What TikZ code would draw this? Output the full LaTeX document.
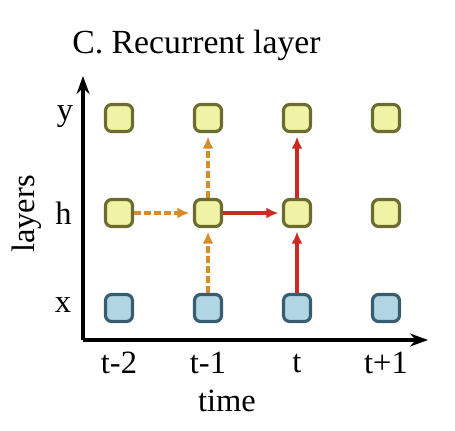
\documentclass[tikz,border=0pt]{standalone}
\usepackage{fontspec}
\setmainfont{Liberation Serif}
\usetikzlibrary{arrows.meta,positioning}
\definecolor{cellyellow}{RGB}{240,242,166}
\definecolor{darkolive}{RGB}{108,108,48}
\definecolor{cellblue}{RGB}{176,214,228}
\definecolor{darkteal}{RGB}{58,92,112}
\definecolor{darkorange}{RGB}{214,140,42}
\definecolor{darkred}{RGB}{204,40,36}

\begin{document}
\begin{tikzpicture}[
    x=0.02cm, y=-0.02cm,
    cell/.style={rectangle, draw, line width=1.8pt, rounded corners=3.5pt, minimum width=0.54cm, minimum height=0.54cm, inner sep=0pt},
    hidcell/.style={cell, fill=cellyellow, draw=darkolive},
    inpcell/.style={cell, fill=cellblue, draw=darkteal},
    axis/.style={-{Stealth[length=0.36cm, width=0.26cm]}, line width=2.1pt},
    past/.style={-{Latex[length=0.24cm, width=0.22cm]}, line width=1.8pt, darkorange, dash pattern=on 0.13cm off 0.07cm, shorten >=2pt},
    now/.style={-{Latex[length=0.24cm, width=0.22cm]}, line width=1.8pt, darkred, shorten >=2pt},
    lbl/.style={font=\fontsize{18.5}{20}\selectfont}
]
    \useasboundingbox (0,0) rectangle (455,430);

    % Title
    \node[anchor=west, font=\fontsize{19.2}{21}\selectfont, inner sep=0pt] (title) at (72,45) {C. Recurrent layer};

    % Axes
    \coordinate (origin) at (83,340);
    \coordinate (ytip) at (83,76);
    \coordinate (xtip) at (428,340);
    \draw[axis] (origin) -- (ytip);
    \draw[axis] (origin) -- (xtip);

    % Grid of units
    \foreach \i/\xx/\t in {1/119/t-2, 2/208/t-1, 3/297/t, 4/386/t+1} {
        \node[hidcell] (y\i) at (\xx,118) {};
        \node[hidcell] (h\i) at (\xx,213) {};
        \node[inpcell] (x\i) at (\xx,308) {};
        \node[lbl] (t\i) at (\xx,363) {\t};
    }

    % Row labels
    \node[lbl] (ly) at (65,117) {y};
    \node[lbl] (lh) at (63.5,213) {h};
    \node[lbl] (lx) at (63,305) {x};
    \node[lbl, rotate=90] (layers) at (27,214) {layers};
    \node[lbl] (time) at (227,401) {time};

    % Connections
    \foreach \a/\b in {h1/h2, x2/h2, h2/y2} {
        \draw[past] (\a) -- (\b);
    }
    \foreach \a/\b in {h2/h3, x3/h3, h3/y3} {
        \draw[now] (\a) -- (\b);
    }
\end{tikzpicture}
\end{document}
